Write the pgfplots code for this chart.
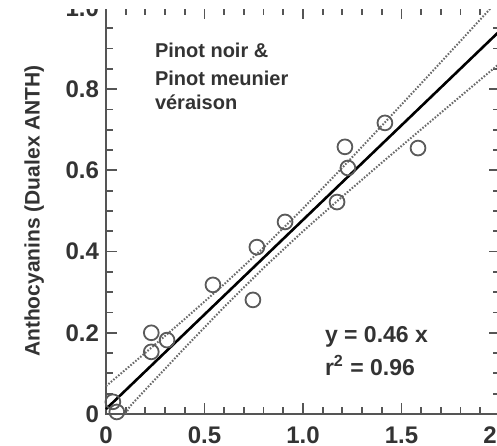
\documentclass[border=0pt]{standalone}
\usepackage{pgfplots}
\pgfplotsset{compat=1.18}
\usepackage{fontspec}
\setmainfont{Liberation Sans}
\definecolor{axgray}{HTML}{555555}
\definecolor{txt}{HTML}{333333}
\definecolor{mk}{HTML}{5a5a5a}
\definecolor{dotc}{HTML}{6a6a6a}
\begin{document}
\begin{tikzpicture}
\begin{axis}[
  scale only axis, width=197pt, height=203pt,
  xmin=0, xmax=2, ymin=0, ymax=1,
  xtick={0,0.5,1,1.5,2}, xticklabels={0,0.5,1.0,1.5,2.0},
  ytick={0,0.2,0.4,0.6,0.8,1.0}, yticklabels={0,0.2,0.4,0.6,0.8,1.0},
  minor x tick num=4, minor y tick num=3,
  tick align=inside,
  major tick length=5.5pt, minor tick length=3.5pt,
  axis line style={axgray, line width=1pt},
  every tick/.style={axgray, line width=0.9pt},
  tick label style={font=\fontsize{12}{14}\selectfont\bfseries, text=txt},
  /pgf/number format/assume math mode=true,
  xticklabel style={yshift=-3pt},
  ylabel={Anthocyanins (Dualex ANTH)},
  ylabel style={at={(axis description cs:-0.1825,0.5)}, anchor=center,
    font=\fontsize{10.5}{12}\selectfont\bfseries, text=txt},
  clip=false,
]
% confidence bands
\addplot[dotc, line width=1pt, dash pattern=on 0.8pt off 0.8pt]
  coordinates {(0,0.0685) (0.1,0.1095) (0.2,0.1507) (0.4,0.2340) (0.6,0.3196) (0.8,0.4098) (1.0,0.5060) (1.2,0.6068) (1.4,0.7099) (1.6,0.8141) (1.8,0.9189) (1.95,0.998)};
\addplot[dotc, line width=1pt, dash pattern=on 0.8pt off 0.8pt]
  coordinates {(0.1,0.0) (0.12,0.018) (0.2,0.0597) (0.4,0.1628) (0.6,0.2636) (0.8,0.3598) (1.0,0.4500) (1.2,0.5356) (1.4,0.6189) (1.6,0.7011) (1.8,0.7827) (2.0,0.864)};
% regression
\addplot[black, line width=1.3pt] coordinates {(0,0.012) (2.0,0.944)};
% data
\addplot[only marks, mark=o, mark size=3.7pt, mark options={draw=mk, line width=0.9pt}]
  coordinates {
  (0.035,0.03) (0.055,0.005) (0.23,0.20) (0.23,0.153) (0.31,0.182)
  (0.543,0.318) (0.746,0.281) (0.766,0.411) (0.909,0.473) (1.173,0.522)
  (1.213,0.658) (1.228,0.606) (1.416,0.717) (1.584,0.655)};
\node[anchor=base west, text=txt, font=\fontsize{10}{12}\selectfont\bfseries] at (axis cs:0.213,0.877) {Pinot noir \&};
\node[anchor=base west, text=txt, font=\fontsize{10}{12}\selectfont\bfseries] at (axis cs:0.213,0.810) {Pinot meunier};
\node[anchor=base west, text=txt, font=\fontsize{10}{12}\selectfont\bfseries] at (axis cs:0.213,0.749) {véraison};
\node[anchor=base west, text=txt, font=\fontsize{11.5}{13}\selectfont\bfseries] at (axis cs:1.076,0.175) {y = 0.46 x};
\node[anchor=base west, text=txt, font=\fontsize{11.5}{13}\selectfont\bfseries] at (axis cs:1.076,0.096) {r\textsuperscript{2} = 0.96};
\coordinate (bbBL) at (axis cs:-0.538,-0.0788);
\coordinate (bbTR) at (axis cs:1.985,1.0197);
\coordinate (wbL) at (axis cs:-0.538,0.9975);
\end{axis}
\fill[white] (wbL) rectangle (bbTR);
\pgfresetboundingbox
\useasboundingbox (bbBL) rectangle (bbTR);
\end{tikzpicture}
\end{document}
